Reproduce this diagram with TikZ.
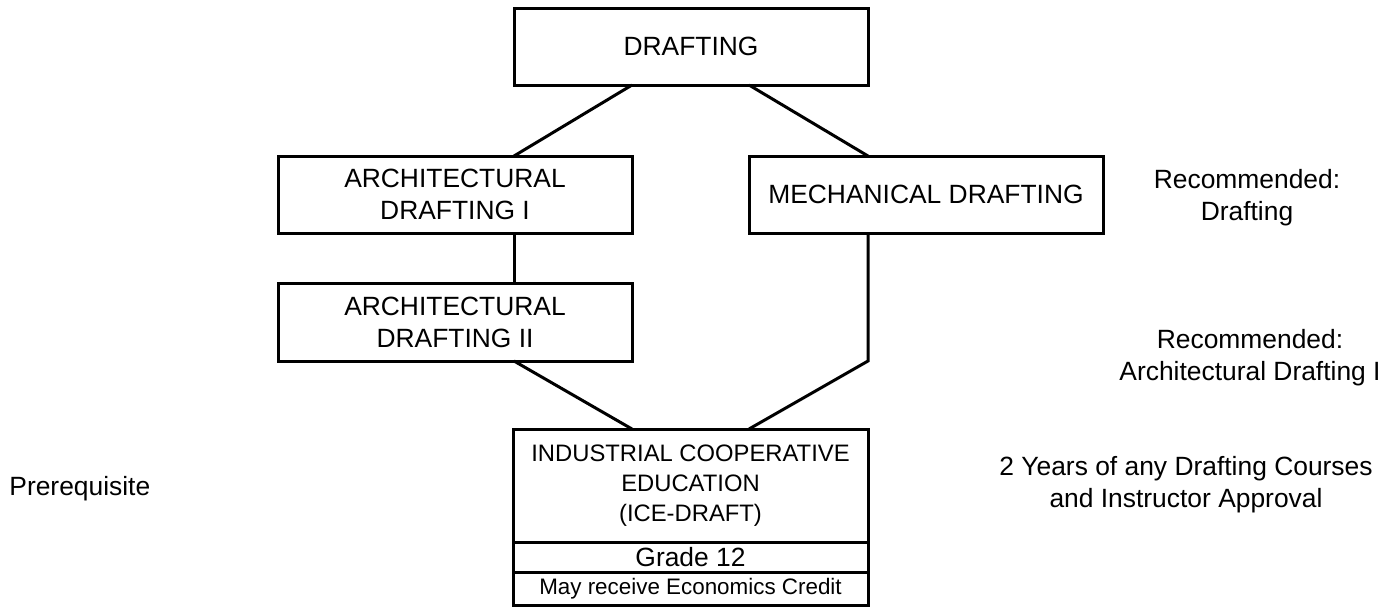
\documentclass[tikz,border=0pt]{standalone}
\usepackage{fontspec}
\setmainfont{Liberation Sans}

\begin{document}
\begin{tikzpicture}[x=0.5pt,y=-0.5pt,
  course/.style={draw,line width=1.5pt,minimum width=177pt,minimum height=38.5pt,
    inner sep=0pt,outer sep=0pt,align=center,font=\fontsize{13.2}{16}\selectfont},
  lowtext/.style={execute at begin node=\rule{0pt}{14pt}},
  link/.style={line width=1.5pt},
  note/.style={align=center,inner sep=0pt,font=\fontsize{13.2}{16}\selectfont}]
\useasboundingbox (0,0) rectangle (1394,607);
\node[course] (draft) at (691,46.5) {DRAFTING};
\node[course,lowtext] (arch1) at (455,194.5) {ARCHITECTURAL\\DRAFTING I};
\node[course] (mech)  at (926,194.5) {MECHANICAL DRAFTING};
\node[course,lowtext,minimum height=39pt] (arch2) at (455,322) {ARCHITECTURAL\\DRAFTING II};
\node[course,minimum width=177.5pt,minimum height=56.5pt,font=\fontsize{11.9}{15}\selectfont]
  (ice) at (690.5,485.5) {INDUSTRIAL COOPERATIVE\\EDUCATION\\(ICE-DRAFT)};
\node[course,minimum width=177.5pt,minimum height=15pt,anchor=north] (grade) at (ice.south) {Grade 12};
\node[course,minimum width=177.5pt,minimum height=16.5pt,anchor=north,font=\fontsize{11.2}{13}\selectfont]
  (econ) at (grade.south) {May receive Economics Credit};
\draw[link] (draft.south -| arch1.east) -- (arch1.north -| draft.west);
\draw[link] (draft.south -| mech.west) -- (mech.north -| draft.east);
\draw[link] (arch1.south -| draft.west) -- (arch2.north -| draft.west);
\draw[link] (arch2.south -| draft.west) -- (ice.north -| arch2.east);
\draw[link] (mech.south -| ice.east) -- (arch2.south -| ice.east) -- (ice.north -| mech.west);
\node[note] (rec1) at (1247,198) {Recommended:\\Drafting};
\node[note] (rec2) at (1250,358) {Recommended:\\Architectural Drafting I};
\node[note] (rec3) at (1186,485) {2 Years of any Drafting Courses\\and Instructor Approval};
\node[note,anchor=base west] (prereq) at (9,495) {Prerequisite};
\end{tikzpicture}
\end{document}
